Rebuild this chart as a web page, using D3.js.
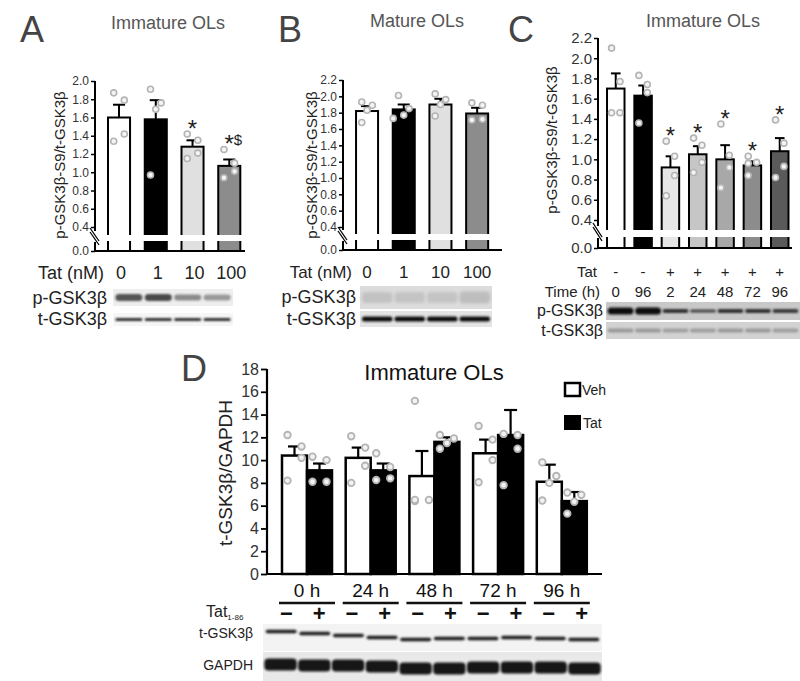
<!DOCTYPE html>
<html><head><meta charset="utf-8">
<script src="https://cdn.jsdelivr.net/npm/d3@7"></script>
<style>body{margin:0;background:#fff} svg{display:block} text{font-family:"Liberation Sans",Arial,sans-serif}</style>
</head><body><svg id="c" width="800" height="681"></svg>
<script>
// ---------------- DATA ----------------
// Panel A: Immature OLs, Tat dose
const aCats = ["0", "1", "10", "100"];
const aMeans = [1.60, 1.58, 1.28, 1.07];
const aSem = [0.14, 0.21, 0.07, 0.07];
const aPoints = [[1.87, 1.79, 1.42, 1.34], [1.91, 1.76, 1.69, 0.97], [1.42, 1.35, 1.21, 1.15], [1.25, 1.10, 1.01, 0.94]];
const aSig = ["", "", "*", "*$"];
const aTicks = [0.4, 0.6, 0.8, 1.0, 1.2, 1.4, 1.6, 1.8, 2.0];
// Panel B: Mature OLs, Tat dose
const bCats = ["0", "1", "10", "100"];
const bMeans = [1.82, 1.84, 1.90, 1.79];
const bSem = [0.06, 0.06, 0.07, 0.07];
const bPoints = [[1.93, 1.89, 1.83, 1.68], [2.01, 1.85, 1.77, 1.73], [2.03, 1.96, 1.90, 1.76], [1.92, 1.89, 1.72, 1.71]];
const bSig = ["", "", "", ""];
const bTicks = [0.4, 0.6, 0.8, 1.0, 1.2, 1.4, 1.6, 1.8, 2.0, 2.2];
// Panel C: Immature OLs, time course
const cTat = ["-", "-", "+", "+", "+", "+", "+"];
const cTime = ["0", "96", "2", "24", "48", "72", "96"];
const cMeans = [1.70, 1.63, 0.92, 1.05, 1.00, 0.94, 1.08];
const cSem = [0.15, 0.10, 0.11, 0.08, 0.14, 0.04, 0.13];
const cPoints = [[2.10, 1.77, 1.46, 1.46], [1.83, 1.74, 1.66, 1.36], [1.18, 1.03, 0.84, 0.64], [1.21, 1.14, 0.97, 0.87], [1.35, 1.04, 0.92, 0.72], [1.03, 0.97, 0.96, 0.84], [1.39, 1.16, 0.93, 0.82]];
const cSig = ["", "", "*", "*", "*", "*", "*"];
const cTicks = [0.4, 0.6, 0.8, 1.0, 1.2, 1.4, 1.6, 1.8, 2.0, 2.2];
// Panel D: t-GSK3b / GAPDH
const dGroups = ["0 h", "24 h", "48 h", "72 h", "96 h"];
const dSeries = ["Veh", "Tat"];
const dVehMeans = [10.4, 10.2, 8.6, 10.6, 8.1];
const dVehSem = [0.8, 0.9, 2.2, 1.2, 1.5];
const dTatMeans = [9.1, 9.1, 11.6, 12.2, 6.4];
const dTatSem = [0.6, 0.6, 0.4, 2.2, 0.8];
const dVehPoints = [[12.2, 11.2, 10.2, 8.2], [12.1, 11.1, 9.5, 8.0], [15.2, 6.5, 6.4, 6.5], [13.0, 11.8, 10.0, 8.05], [9.8, 8.6, 8.0, 6.45]];
const dTatPoints = [[10.3, 10.0, 8.1, 8.1], [10.6, 9.4, 8.4, 8.25], [12.2, 11.9, 11.5, 11.0], [12.3, 12.2, 11.0, 7.8], [7.15, 6.95, 6.35, 5.3]];
const dTicks = [0, 2, 4, 6, 8, 10, 12, 14, 16, 18];

// ---------------- DRAW ----------------
const svg = d3.select("#c");
svg.append("rect").attr("width", 800).attr("height", 681).attr("fill", "#fff");
const defs = svg.append("defs");
defs.append("filter").attr("id", "bl").attr("x", "-30%").attr("y", "-100%").attr("width", "160%").attr("height", "300%")
  .append("feGaussianBlur").attr("stdDeviation", 1.0);
defs.append("filter").attr("id", "bl2").attr("x", "-30%").attr("y", "-100%").attr("width", "160%").attr("height", "300%")
  .append("feGaussianBlur").attr("stdDeviation", 1.8);

function txt(g, x, y, s, size, opt = {}) {
  return g.append("text").attr("x", x).attr("y", y).text(s)
    .attr("font-size", size).attr("fill", opt.fill || "#222")
    .attr("text-anchor", opt.anchor || "start")
    .attr("font-weight", opt.weight || "normal");
}

function placePoints(vals, y, cx, bw, r) {
  const s = Math.min(bw * 0.24, 7);
  const pat = [-1, 1, 1, -1];
  const placed = [];
  vals.forEach((v, i) => {
    const py = y(v);
    const tries = [pat[i % 4] * s, 0, -pat[i % 4] * s, -2 * s, 2 * s];
    let px = cx + tries[0];
    for (const t of tries) {
      const cand = cx + t;
      if (placed.every(p => Math.hypot(p[0] - cand, p[1] - py) >= 2 * r + 0.8)) { px = cand; break; }
    }
    placed.push([px, py]);
  });
  return placed;
}

function barPanel(cfg) {
  const g = svg.append("g");
  const n = cfg.means.length;
  const idx = d3.range(n);
  const yU = d3.scaleLinear().domain(cfg.upDomain).range(cfg.upRange);
  const yL = d3.scaleLinear().domain([0, 0.4]).range([cfg.y0, cfg.y0 - 40]);
  const x = d3.scaleBand().domain(idx).range(cfg.xRange).paddingInner(cfg.pi).paddingOuter(cfg.po);
  const bw = x.bandwidth();
  g.selectAll("rect.bar").data(idx).join("rect")
    .attr("x", i => x(i)).attr("y", i => yU(cfg.means[i]))
    .attr("width", bw).attr("height", i => yL(0) - yU(cfg.means[i]))
    .attr("fill", i => cfg.fills[i]).attr("stroke", "#000").attr("stroke-width", 2);
  g.append("rect").attr("x", cfg.axisX - 12).attr("y", cfg.gap[0])
    .attr("width", cfg.xEnd - cfg.axisX + 16).attr("height", cfg.gap[1] - cfg.gap[0]).attr("fill", "#fff");
  const cap = Math.min(bw * 0.55, 13);
  idx.forEach(i => {
    const cx = x(i) + bw / 2, top = yU(cfg.means[i] + cfg.sem[i]);
    g.append("line").attr("x1", cx).attr("x2", cx).attr("y1", yU(cfg.means[i])).attr("y2", top).attr("stroke", "#000").attr("stroke-width", 2);
    g.append("line").attr("x1", cx - cap / 2).attr("x2", cx + cap / 2).attr("y1", top).attr("y2", top).attr("stroke", "#000").attr("stroke-width", 2);
  });
  idx.forEach(i => {
    const cx = x(i) + bw / 2;
    const pts = placePoints(cfg.points[i], yU, cx, bw, cfg.r);
    pts.forEach(p => g.append("circle").attr("cx", p[0]).attr("cy", p[1]).attr("r", cfg.r)
      .attr("fill", "#f4f4f4").attr("stroke", "#b4b4b4").attr("stroke-width", 1.6));
  });
  idx.forEach(i => {
    if (!cfg.sig[i]) return;
    const cx = x(i) + bw / 2;
    const top = Math.min(yU(cfg.means[i] + cfg.sem[i]), yU(d3.max(cfg.points[i])));
    const t = g.append("text").attr("x", cx + (cfg.sig[i].length > 1 ? 4 : 0)).attr("y", top + 3)
      .attr("text-anchor", "middle").attr("font-size", 24).attr("fill", "#222");
    t.append("tspan").text("*");
    if (cfg.sig[i].length > 1) t.append("tspan").attr("font-size", 15).attr("dy", -7).text(cfg.sig[i].slice(1));
  });
  const axU = d3.axisLeft(yU).tickValues(cfg.ticks).tickSize(4).tickPadding(2).tickFormat(d3.format(".1f"));
  const ga = g.append("g").attr("transform", `translate(${cfg.axisX},0)`).call(axU);
  ga.select(".domain").remove();
  const axL = d3.axisLeft(yL).tickValues([0]).tickSize(4).tickPadding(2).tickFormat(d3.format(".1f"));
  const gl = g.append("g").attr("transform", `translate(${cfg.axisX},0)`).call(axL);
  gl.select(".domain").remove();
  [ga, gl].forEach(a => {
    a.selectAll("text").attr("font-size", cfg.tickSize).attr("fill", "#333").attr("font-family", '"Liberation Sans", Arial, sans-serif');
    a.selectAll("line").attr("stroke", "#000").attr("stroke-width", 1.5);
  });
  g.append("line").attr("x1", cfg.axisX).attr("x2", cfg.axisX).attr("y1", cfg.upRange[1]).attr("y2", cfg.gap[0] - 4).attr("stroke", "#000").attr("stroke-width", 2);
  g.append("line").attr("x1", cfg.axisX).attr("x2", cfg.axisX).attr("y1", cfg.gap[1] + 1).attr("y2", cfg.y0).attr("stroke", "#000").attr("stroke-width", 2);
  g.append("line").attr("x1", cfg.axisX - 1).attr("x2", cfg.xEnd).attr("y1", cfg.y0).attr("y2", cfg.y0).attr("stroke", "#000").attr("stroke-width", 2);
  [-2, 2].forEach(o => g.append("line")
    .attr("x1", cfg.axisX - 5).attr("y1", cfg.gap[0] - 5 + o)
    .attr("x2", cfg.axisX + 4).attr("y2", cfg.gap[1] + 2 + o)
    .attr("stroke", "#000").attr("stroke-width", 1.3));
  g.append("text").attr("transform", `translate(${cfg.ylab[0]},${cfg.ylab[1]}) rotate(-90)`)
    .attr("text-anchor", "middle").attr("font-size", 15).attr("fill", "#222").text("p-GSK3β-S9/t-GSK3β");
  txt(g, cfg.title[0], cfg.title[1], cfg.titleText, 18, { anchor: "middle", fill: "#555" });
  if (cfg.letter) txt(g, cfg.letter[0], cfg.letter[1], cfg.letter[2], 36, { fill: "#444" });
  return { x, bw };
}

function blot(g, bx, by, bw, bh, bg, lanes, lanePad, bands) {
  const lx = d3.scaleBand().domain(d3.range(bands.length)).range([bx, bx + bw]).padding(lanePad);
  g.append("rect").attr("x", bx).attr("y", by).attr("width", bw).attr("height", bh).attr("fill", bg);
  bands.forEach((b, i) => {
    g.append("rect").attr("x", lx(i)).attr("y", by + bh / 2 - b.h / 2 + (b.dy || 0))
      .attr("width", lx.bandwidth()).attr("height", b.h).attr("rx", Math.min(b.h / 2, 4))
      .attr("fill", b.c).attr("filter", b.soft ? "url(#bl2)" : "url(#bl)");
  });
}

// ---- Panel A ----
const A = barPanel({
  means: aMeans, sem: aSem, points: aPoints, sig: aSig, ticks: aTicks,
  upDomain: [0.4, 2.0], upRange: [227, 81], y0: 251, gap: [235, 241],
  axisX: 95, xEnd: 245, xRange: [100.65, 247.65], pi: 0.4, po: 0.2,
  fills: ["#fff", "#000", "#e0e0e0", "#8c8c8c"], r: 3, tickSize: 12,
  ylab: [65, 165], title: [168, 29], titleText: "Immature OLs", letter: [20, 42, "A"]
});
{
  const g = svg.append("g");
  txt(g, 104, 279, "Tat (nM)", 18, { anchor: "end" });
  aCats.forEach((c, i) => txt(g, A.x(i) + A.bw / 2 + 2, 279, c, 18, { anchor: "middle" }));
  txt(g, 107, 304, "p-GSK3β", 18, { anchor: "end" });
  txt(g, 107, 325, "t-GSK3β", 18, { anchor: "end" });
  blot(g, 113, 289, 120, 17, "#eeeeee", 4, 0.08, [
    { h: 7, c: "#555" }, { h: 7, c: "#4a4a4a" }, { h: 6, c: "#8a8a8a" }, { h: 6, c: "#999" }]);
  blot(g, 113, 313, 120, 13, "#f6f6f6", 4, 0.08, [
    { h: 3, c: "#333" }, { h: 3, c: "#333" }, { h: 3, c: "#333" }, { h: 3, c: "#333" }]);
}

// ---- Panel B ----
const B = barPanel({
  means: bMeans, sem: bSem, points: bPoints, sig: bSig, ticks: bTicks,
  upDomain: [0.4, 2.2], upRange: [227, 80], y0: 250, gap: [234, 240],
  axisX: 343, xEnd: 502, xRange: [348.7, 495.5], pi: 0.4, po: 0.2,
  fills: ["#fff", "#000", "#e0e0e0", "#8c8c8c"], r: 3, tickSize: 12,
  ylab: [317, 165], title: [417, 27], titleText: "Mature OLs", letter: [278, 42, "B"]
});
{
  const g = svg.append("g");
  txt(g, 352, 278, "Tat (nM)", 17, { anchor: "end" });
  bCats.forEach((c, i) => txt(g, B.x(i) + B.bw / 2, 278, c, 17, { anchor: "middle" }));
  txt(g, 356, 303, "p-GSK3β", 18, { anchor: "end" });
  txt(g, 356, 325, "t-GSK3β", 18, { anchor: "end" });
  blot(g, 360, 286, 132, 23, "#dcdcdc", 4, 0.06, [
    { h: 11, c: "#c2c2c2", soft: true }, { h: 11, c: "#c4c4c4", soft: true }, { h: 11, c: "#c4c4c4", soft: true }, { h: 12, c: "#bdbdbd", soft: true }]);
  blot(g, 360, 311, 132, 16, "#e4e4e4", 4, 0.06, [
    { h: 5, c: "#111" }, { h: 5, c: "#111" }, { h: 5, c: "#111" }, { h: 5, c: "#111" }]);
}

// ---- Panel C ----
const C = barPanel({
  means: cMeans, sem: cSem, points: cPoints, sig: cSig, ticks: cTicks,
  upDomain: [0.4, 2.2], upRange: [220, 38], y0: 248, gap: [230, 237],
  axisX: 598, xEnd: 792, xRange: [602.1, 793.4], pi: 0.36, po: 0.18,
  fills: ["#fff", "#000", "#e6e6e6", "#c6c6c6", "#a8a8a8", "#8c8c8c", "#5a5a5a"], r: 3, tickSize: 15,
  ylab: [557, 140], title: [703, 27], titleText: "Immature OLs", letter: [508, 42, "C"]
});
{
  const g = svg.append("g");
  txt(g, 597, 277, "Tat", 15, { anchor: "end" });
  cTat.forEach((c, i) => txt(g, C.x(i) + C.bw / 2, 277, c, 15, { anchor: "middle" }));
  txt(g, 600, 297, "Time (h)", 15, { anchor: "end" });
  cTime.forEach((c, i) => txt(g, C.x(i) + C.bw / 2, 297, c, 15, { anchor: "middle" }));
  txt(g, 603, 316, "p-GSK3β", 16, { anchor: "end" });
  txt(g, 603, 336, "t-GSK3β", 16, { anchor: "end" });
  blot(g, 606, 302, 194, 18, "#c8c8c8", 7, 0.06, [
    { h: 7, c: "#111" }, { h: 7, c: "#0c0c0c" }, { h: 4, c: "#333" }, { h: 3, c: "#444" }, { h: 4, c: "#333" }, { h: 4, c: "#333" }, { h: 4, c: "#3a3a3a" }]);
  blot(g, 606, 322, 194, 17, "#d2d2d2", 7, 0.06, [
    { h: 4, c: "#9a9a9a" }, { h: 4, c: "#9a9a9a" }, { h: 4, c: "#a0a0a0" }, { h: 4, c: "#9e9e9e" }, { h: 4, c: "#9a9a9a" }, { h: 4, c: "#9a9a9a" }, { h: 4, c: "#9e9e9e" }]);
}

// ---- Panel D ----
{
  const g = svg.append("g");
  const y = d3.scaleLinear().domain([0, 18]).range([574, 369]);
  const x0 = d3.scaleBand().domain(dGroups).range([275.15, 593.65]).paddingInner(0.215).paddingOuter(0.1075);
  const x1 = d3.scaleBand().domain(dSeries).range([0, x0.bandwidth()]);
  const bw = x1.bandwidth();
  const fills = { Veh: "#fff", Tat: "#000" };
  const rows = [];
  dGroups.forEach((grp, i) => {
    rows.push({ grp, s: "Veh", m: dVehMeans[i], e: dVehSem[i], p: dVehPoints[i] });
    rows.push({ grp, s: "Tat", m: dTatMeans[i], e: dTatSem[i], p: dTatPoints[i] });
  });
  g.selectAll("rect.dbar").data(rows).join("rect")
    .attr("x", d => x0(d.grp) + x1(d.s)).attr("y", d => y(d.m))
    .attr("width", bw).attr("height", d => y(0) - y(d.m))
    .attr("fill", d => fills[d.s]).attr("stroke", "#000").attr("stroke-width", 2.5);
  rows.forEach(d => {
    const cx = x0(d.grp) + x1(d.s) + bw / 2, top = y(d.m + d.e);
    g.append("line").attr("x1", cx).attr("x2", cx).attr("y1", y(d.m)).attr("y2", top).attr("stroke", "#000").attr("stroke-width", 2.2);
    g.append("line").attr("x1", cx - 6.5).attr("x2", cx + 6.5).attr("y1", top).attr("y2", top).attr("stroke", "#000").attr("stroke-width", 2.2);
  });
  rows.forEach(d => {
    const cx = x0(d.grp) + x1(d.s) + bw / 2;
    placePoints(d.p, y, cx, bw * 1.2, 3.3).forEach(p => g.append("circle").attr("cx", p[0]).attr("cy", p[1]).attr("r", 3.3)
      .attr("fill", "#f2f2f2").attr("stroke", "#b4b4b4").attr("stroke-width", 1.8));
  });
  const ax = d3.axisLeft(y).tickValues(dTicks).tickSize(6).tickPadding(2).tickFormat(d3.format("d"));
  const ga = g.append("g").attr("transform", "translate(267,0)").call(ax);
  ga.select(".domain").remove();
  ga.selectAll("text").attr("font-size", 16).attr("fill", "#333").attr("font-family", '"Liberation Sans", Arial, sans-serif');
  ga.selectAll("line").attr("stroke", "#000").attr("stroke-width", 1.8);
  g.append("line").attr("x1", 267).attr("x2", 267).attr("y1", 369).attr("y2", 574).attr("stroke", "#000").attr("stroke-width", 2.2);
  g.append("line").attr("x1", 266).attr("x2", 602).attr("y1", 574).attr("y2", 574).attr("stroke", "#000").attr("stroke-width", 2.2);
  g.append("text").attr("transform", "translate(232,473) rotate(-90)").attr("text-anchor", "middle")
    .attr("font-size", 19).attr("fill", "#222").text("t-GSK3β/GAPDH");
  txt(g, 434, 380, "Immature OLs", 22, { anchor: "middle", fill: "#111" });
  txt(g, 181, 381, "D", 36, { fill: "#444" });
  g.append("rect").attr("x", 565).attr("y", 383).attr("width", 15).attr("height", 13).attr("fill", "#fff").attr("stroke", "#000").attr("stroke-width", 2.5);
  txt(g, 582, 395, "Veh", 14, { fill: "#222" });
  g.append("rect").attr("x", 564).attr("y", 415).attr("width", 17).attr("height", 15).attr("fill", "#000");
  txt(g, 583, 428, "Tat", 14, { fill: "#222" });
  dGroups.forEach(grp => {
    const cx = x0(grp) + x0.bandwidth() / 2;
    txt(g, cx, 597, grp, 19, { anchor: "middle", fill: "#111" });
    g.append("line").attr("x1", cx - 28).attr("x2", cx + 28).attr("y1", 603).attr("y2", 603).attr("stroke", "#111").attr("stroke-width", 2.5);
  });
  const tt = g.append("text").attr("x", 206).attr("y", 617).attr("font-size", 16).attr("fill", "#222");
  tt.append("tspan").text("Tat");
  tt.append("tspan").attr("font-size", 8).attr("dy", 3).text("1-86");
  const lane = d3.scaleBand().domain(d3.range(10)).range([270, 598]);
  d3.range(10).forEach(i => {
    const cx = lane(i) + lane.bandwidth() / 2;
    txt(g, cx, 621, i % 2 === 0 ? "−" : "+", 22, { anchor: "middle", weight: "bold", fill: "#111" });
  });
  txt(g, 253, 638, "t-GSK3β", 14, { anchor: "end" });
  txt(g, 253, 670, "GAPDH", 14, { anchor: "end" });
  const tShift = [-6, -4, -2, 0, 2, 1, 1, 0, 1, 2];
  blot(g, 263, 624, 339, 27, "#f3f3f3", 10, 0.08, tShift.map(s => ({ h: 3.5, c: "#1e1e1e", dy: s })));
  const gShift = [-2, -1, -1, 0, 2, 2, 1, 1, 1, 2];
  blot(g, 263, 652, 339, 29, "#e9e9e9", 10, 0.04, gShift.map(s => ({ h: 12, c: "#141414", dy: s })));
}
</script>
</body></html>
